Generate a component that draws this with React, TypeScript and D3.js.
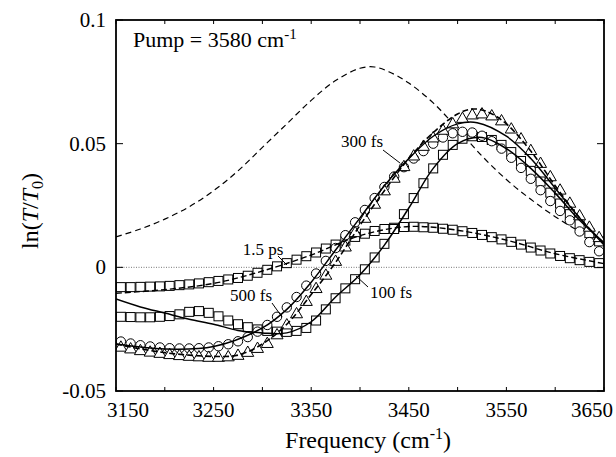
import React from 'react'
import * as d3 from 'd3'

const W = 616
const H = 457
const X0 = 116
const X1 = 604
const Y0 = 20
const Y1 = 391

const FONT = 'Liberation Serif, Times New Roman, Times, DejaVu Serif, serif'

// probe frequencies of the data points (cm-1)
const FREQ = [
  3155, 3165, 3175, 3185, 3195, 3205, 3215, 3225, 3235, 3245,
  3255, 3265, 3275, 3285, 3295, 3305, 3315, 3325, 3335, 3345,
  3355, 3365, 3375, 3385, 3395, 3405, 3415, 3425, 3435, 3445,
  3455, 3465, 3475, 3485, 3495, 3505, 3515, 3525, 3535, 3545,
  3555, 3565, 3575, 3585, 3595, 3605, 3615, 3625, 3635, 3645,
]

// 1.5 ps (squares)
const PS15 = [
  -0.0080, -0.0080, -0.0079, -0.0078, -0.0077, -0.0075, -0.0072, -0.0069, -0.0065, -0.0060,
  -0.0055, -0.0049, -0.0043, -0.0034, -0.0022, -0.0010, 0.0004, 0.0017, 0.0031, 0.0045,
  0.0060, 0.0076, 0.0092, 0.0108, 0.0123, 0.0136, 0.0147, 0.0155, 0.0160, 0.0163,
  0.0164, 0.0162, 0.0160, 0.0156, 0.0152, 0.0146, 0.0139, 0.0131, 0.0122, 0.0113,
  0.0103, 0.0092, 0.0080, 0.0068, 0.0056, 0.0046, 0.0037, 0.0029, 0.0022, 0.0017,
]

// 100 fs (squares)
const FS100 = [
  -0.0200, -0.0201, -0.0202, -0.0202, -0.0200, -0.0197, -0.0190, -0.0180, -0.0177, -0.0184,
  -0.0198, -0.0215, -0.0230, -0.0242, -0.0251, -0.0257, -0.0260, -0.0261, -0.0257, -0.0245,
  -0.0215, -0.0170, -0.0125, -0.0085, -0.0048, -0.0008, 0.0040, 0.0095, 0.0155, 0.0215,
  0.0280, 0.0340, 0.0400, 0.0455, 0.0495, 0.0520, 0.0530, 0.0527, 0.0515, 0.0495,
  0.0466, 0.0430, 0.0390, 0.0347, 0.0302, 0.0258, 0.0215, 0.0175, 0.0138, 0.0105,
]

// 300 fs (triangles)
const FS300 = [
  -0.0325, -0.0332, -0.0339, -0.0345, -0.0350, -0.0355, -0.0359, -0.0362, -0.0364, -0.0366,
  -0.0366, -0.0364, -0.0358, -0.0346, -0.0330, -0.0310, -0.0275, -0.0235, -0.0190, -0.0140,
  -0.0088, -0.0034, 0.0022, 0.0080, 0.0138, 0.0196, 0.0253, 0.0307, 0.0358, 0.0405,
  0.0448, 0.0487, 0.0521, 0.0552, 0.0578, 0.0600, 0.0614, 0.0618, 0.0610, 0.0590,
  0.0557, 0.0517, 0.0470, 0.0418, 0.0364, 0.0310, 0.0257, 0.0206, 0.0160, 0.0118,
]

// 500 fs (circles)
const FS500 = [
  -0.0300, -0.0308, -0.0315, -0.0320, -0.0324, -0.0327, -0.0328, -0.0328, -0.0327, -0.0324,
  -0.0319, -0.0311, -0.0299, -0.0282, -0.0260, -0.0233, -0.0200, -0.0162, -0.0120, -0.0074,
  -0.0025, 0.0026, 0.0078, 0.0130, 0.0182, 0.0232, 0.0280, 0.0325, 0.0367, 0.0405,
  0.0440, 0.0470, 0.0500, 0.0525, 0.0542, 0.0548, 0.0545, 0.0532, 0.0510, 0.0480,
  0.0443, 0.0402, 0.0358, 0.0312, 0.0268, 0.0228, 0.0190, 0.0145, 0.0102, 0.0065,
]

// fits: [freq, value]
const FIT_15PS = [
  [3150, -0.0105], [3200, -0.009], [3250, -0.0065], [3300, -0.0015], [3350, 0.005],
  [3400, 0.0128], [3450, 0.0165], [3500, 0.015], [3550, 0.011], [3600, 0.0055], [3650, 0.0015],
]
const FIT_100FS = [
  [3150, -0.0128], [3175, -0.016], [3200, -0.0185], [3225, -0.021], [3250, -0.023],
  [3275, -0.0255], [3300, -0.0265], [3325, -0.0265], [3350, -0.022], [3375, -0.012],
  [3400, -0.003], [3425, 0.009], [3450, 0.024], [3475, 0.040], [3500, 0.050],
  [3525, 0.0525], [3550, 0.048], [3575, 0.040], [3600, 0.030], [3625, 0.019], [3650, 0.010],
]
const FIT_300FS = [
  [3150, -0.031], [3175, -0.033], [3200, -0.0345], [3225, -0.0355], [3250, -0.036],
  [3275, -0.0355], [3300, -0.031], [3325, -0.023], [3350, -0.011], [3375, 0.002],
  [3400, 0.017], [3425, 0.031], [3450, 0.044], [3475, 0.0545], [3500, 0.062],
  [3515, 0.064], [3530, 0.063], [3550, 0.058], [3575, 0.047], [3600, 0.033],
  [3625, 0.020], [3650, 0.0095],
]
const FIT_500FS = [
  [3150, -0.031], [3200, -0.033], [3250, -0.032], [3300, -0.0245], [3325, -0.017],
  [3350, -0.006], [3375, 0.007], [3400, 0.020], [3425, 0.033], [3450, 0.044],
  [3475, 0.053], [3500, 0.058], [3520, 0.0585], [3550, 0.053], [3575, 0.044],
  [3600, 0.032], [3625, 0.020], [3650, 0.009],
]
// scaled linear absorption spectrum (long dashes)
const ABS = [
  [3150, 0.0123], [3175, 0.0155], [3200, 0.0195], [3225, 0.0245], [3250, 0.031],
  [3275, 0.039], [3300, 0.0485], [3325, 0.058], [3350, 0.0675], [3375, 0.0755],
  [3400, 0.0805], [3415, 0.081], [3430, 0.079], [3450, 0.0745], [3475, 0.0665],
  [3500, 0.056], [3525, 0.045], [3550, 0.0355], [3575, 0.0275], [3600, 0.0205],
  [3625, 0.0145], [3650, 0.0095],
]

const X_TICKS = [3150, 3200, 3250, 3300, 3350, 3400, 3450, 3500, 3550, 3600, 3650]
const X_LABELS = [3150, 3250, 3350, 3450, 3550, 3650]
const Y_TICKS = [-0.05, 0, 0.05, 0.1]
const Y_LABELS = ['-0.05', '0', '0.05', '0.1']

const x = d3.scaleLinear().domain([3150, 3650]).range([X0, X1])
const y = d3.scaleLinear().domain([-0.05, 0.1]).range([Y1, Y0])

const line = d3.line<number[]>()
  .x((d) => x(d[0]))
  .y((d) => y(d[1]))
  .curve(d3.curveCatmullRom)

function Squares({ vals }: { vals: number[] }) {
  return <g>
    {vals.map((v, i) => <rect key={i} x={x(FREQ[i]) - 4.5} y={y(v) - 4.5} width={9} height={9}
      fill="#fff" stroke="#000" strokeWidth={1} />)}
  </g>
}

function Circles({ vals }: { vals: number[] }) {
  return <g>
    {vals.map((v, i) => <circle key={i} cx={x(FREQ[i])} cy={y(v)} r={4.7}
      fill="#fff" stroke="#000" strokeWidth={1} />)}
  </g>
}

function Triangles({ vals }: { vals: number[] }) {
  const tri = d3.symbol(d3.symbolTriangle, 62)()
  return <g>
    {vals.map((v, i) => <path key={i} d={tri} transform={`translate(${x(FREQ[i])},${y(v)})`}
      fill="#fff" stroke="#000" strokeWidth={1} />)}
  </g>
}

function Label({ tx, ty, text, p }: { tx: number, ty: number, text: string, p: number[] }) {
  return <g>
    <text x={tx} y={ty} fontSize={17} textAnchor="middle">{text}</text>
    <line x1={p[0]} y1={p[1]} x2={p[2]} y2={p[3]} stroke="#000" strokeWidth={1} />
  </g>
}

export default function App() {
  return (
    <svg width={W} height={H}
      style={{ position: 'absolute', left: 0, top: 0, background: '#fff', fontFamily: FONT }}>
      <defs>
        <clipPath id="plot">
          <rect x={X0} y={Y0} width={X1 - X0} height={Y1 - Y0} />
        </clipPath>
      </defs>

      {/* zero line */}
      <line x1={X0} x2={X1} y1={y(0)} y2={y(0)} stroke="#555" strokeWidth={0.8} strokeDasharray="1,1.5" />

      <g clipPath="url(#plot)">
        <path d={line(ABS) || ''} fill="none" stroke="#000" strokeWidth={1.2} strokeDasharray="6,4" />

        <Squares vals={PS15} />
        <Squares vals={FS100} />
        <Circles vals={FS500} />
        <Triangles vals={FS300} />

        <path d={line(FIT_15PS) || ''} fill="none" stroke="#000" strokeWidth={1.4} strokeDasharray="6,3" />
        <path d={line(FIT_100FS) || ''} fill="none" stroke="#000" strokeWidth={1.5} />
        <path d={line(FIT_500FS) || ''} fill="none" stroke="#000" strokeWidth={1.5} />
        <path d={line(FIT_300FS) || ''} fill="none" stroke="#000" strokeWidth={1.6} strokeDasharray="6,3" />
      </g>

      {/* frame */}
      <rect x={X0} y={Y0} width={X1 - X0} height={Y1 - Y0} fill="none" stroke="#000" strokeWidth={1.8} />

      {/* ticks */}
      {X_TICKS.map((t) => <g key={t}>
        <line x1={x(t)} x2={x(t)} y1={Y1} y2={Y1 - 4} stroke="#000" strokeWidth={1} />
        <line x1={x(t)} x2={x(t)} y1={Y0} y2={Y0 + 4} stroke="#000" strokeWidth={1} />
      </g>)}
      {Y_TICKS.map((t) => <g key={t}>
        <line x1={X0} x2={X0 + 7} y1={y(t)} y2={y(t)} stroke="#000" strokeWidth={1} />
        <line x1={X1} x2={X1 - 7} y1={y(t)} y2={y(t)} stroke="#000" strokeWidth={1} />
      </g>)}

      {/* tick labels */}
      {X_LABELS.map((t, i) => {
        let cx = x(t)
        if (i === 0) cx += 12
        if (i === X_LABELS.length - 1) cx -= 12
        return <text key={t} x={cx} y={417} fontSize={21} textAnchor="middle">{t}</text>
      })}
      {Y_TICKS.map((t, i) => <text key={t} x={106} y={y(t) + 7} fontSize={21} textAnchor="end">
        {Y_LABELS[i]}
      </text>)}

      {/* axis titles */}
      <text x={368} y={448} fontSize={24} textAnchor="middle">
        Frequency (cm<tspan dy={-9} fontSize={16}>-1</tspan><tspan dy={9}>)</tspan>
      </text>
      <text transform="translate(38,211) rotate(-90)" fontSize={24} textAnchor="middle">
        ln(<tspan fontStyle="italic">T</tspan>/<tspan fontStyle="italic">T</tspan>
        <tspan dy={5} fontSize={16}>0</tspan><tspan dy={-5}>)</tspan>
      </text>

      <text x={133} y={47} fontSize={22}>
        Pump = 3580 cm<tspan dy={-8} fontSize={15}>-1</tspan>
      </text>

      {/* curve labels */}
      <Label tx={263} ty={255} text="1.5 ps" p={[278, 256, 287, 265]} />
      <Label tx={251} ty={301} text="500 fs" p={[272, 303, 282, 317]} />
      <Label tx={362} ty={147} text="300 fs" p={[383, 150, 400, 163]} />
      <Label tx={391} ty={298} text="100 fs" p={[368, 287, 356, 276]} />
    </svg>
  )
}
